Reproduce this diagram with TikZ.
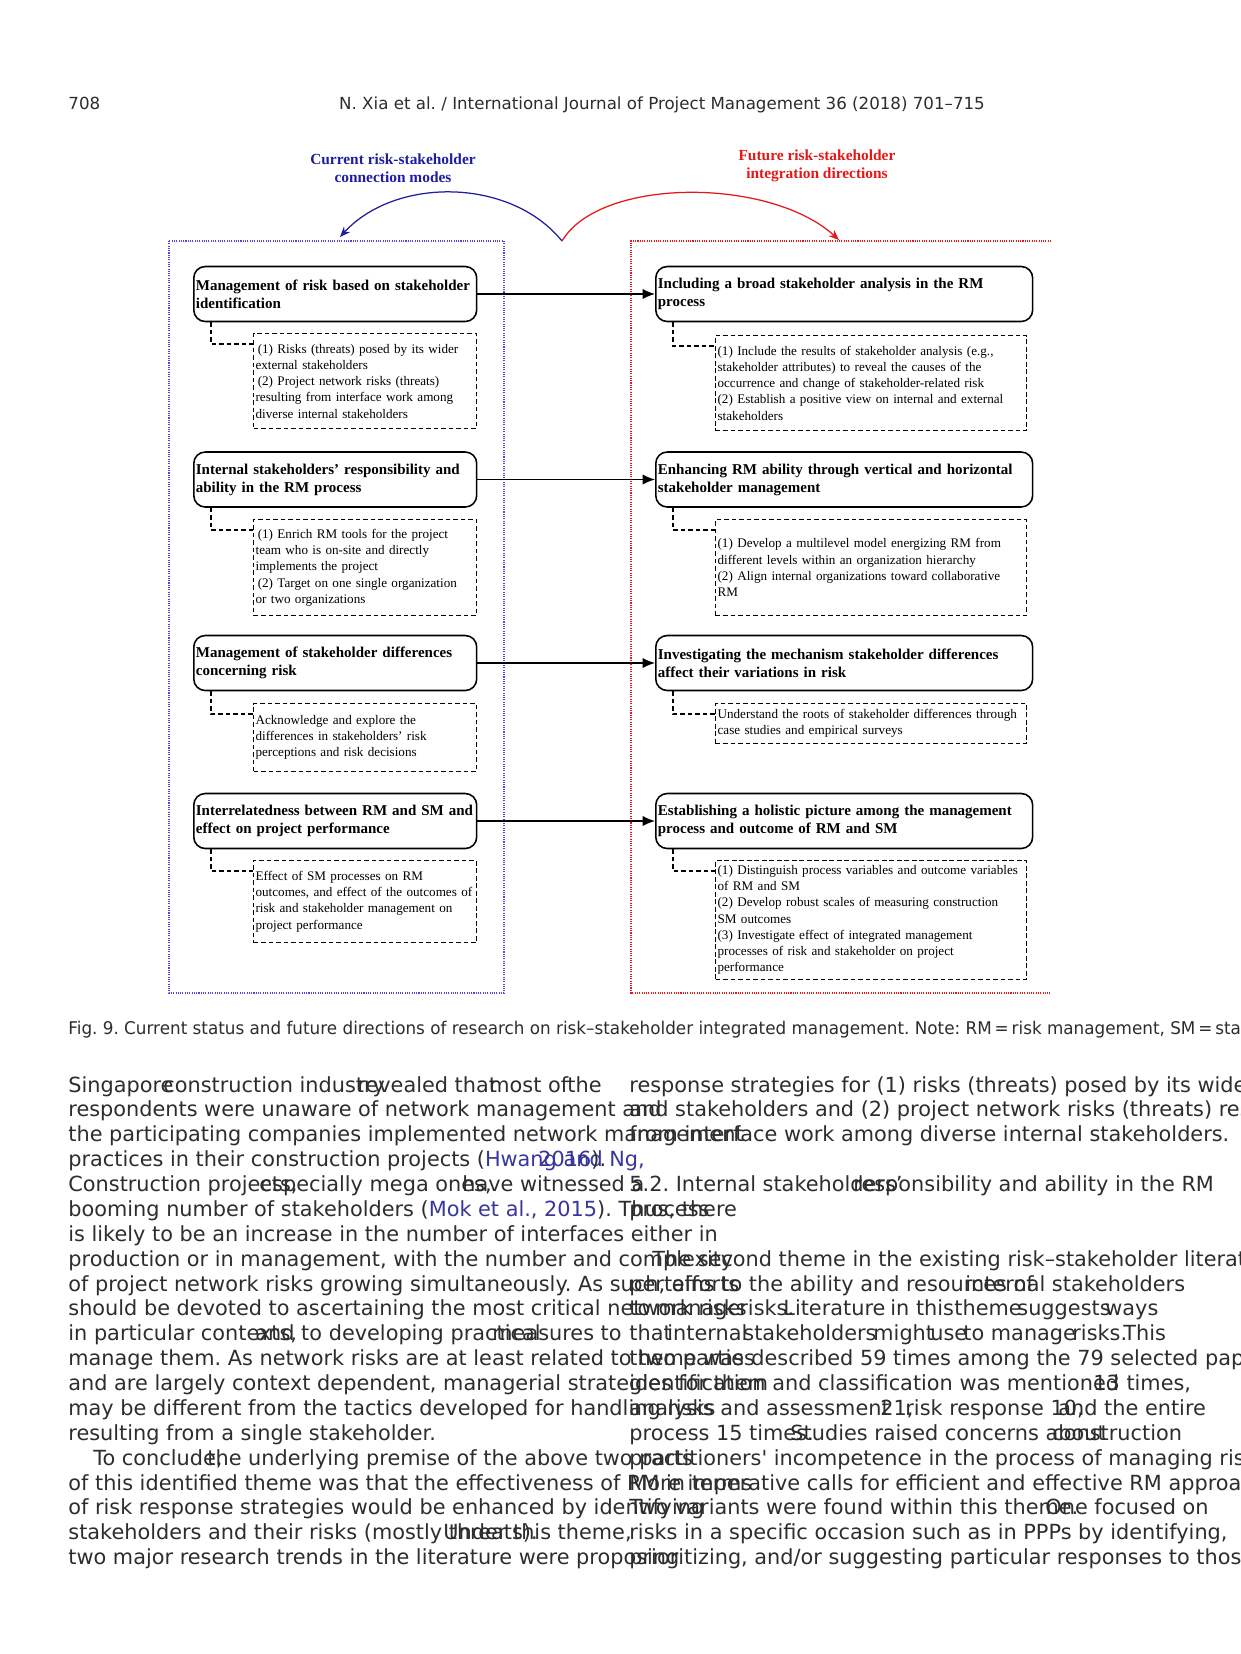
\documentclass[tikz,border=0pt]{standalone}
\usepackage{fontspec}
\setmainfont{Liberation Serif}
\newfontfamily\pagefont{DejaVu Sans}
\newfontfamily\capfont[FakeStretch=0.96]{DejaVu Sans}
\usepackage{xcolor}
\usetikzlibrary{arrows.meta, calc}

\definecolor{curblue}{RGB}{30,30,160}
\definecolor{boxblue}{RGB}{80,70,210}
\definecolor{futred}{RGB}{225,25,25}
\definecolor{bodygray}{RGB}{45,45,45}
\definecolor{citeblue}{RGB}{55,55,155}

\begin{document}
\frenchspacing
\begin{tikzpicture}[
    x=0.48pt, y=-0.48pt,
    mainbox/.style={draw, line width=0.75pt, rounded corners=5.5pt, align=left, text width=#1,
        minimum height=26.4pt, inner xsep=1pt, inner ysep=1pt, anchor=west,
        font=\bfseries\fontsize{7.2}{8.6}\selectfont},
    detailbox/.style={draw, dash pattern=on 2.2pt off 1.4pt, line width=0.5pt, align=left,
        text width=#1, inner xsep=1pt, inner ysep=1pt, anchor=north west,
        font=\fontsize{6.3}{7.8}\selectfont},
    elbow/.style={dash pattern=on 2.2pt off 1.4pt, line width=0.5pt},
    link/.style={line width=0.65pt, -{Latex[length=6pt, width=5pt]}},
    frame/.style={line width=0.5pt, dash pattern=on 0.5pt off 0.6pt},
    headtitle/.style={align=center, inner sep=0, font=\bfseries\fontsize{7.4}{8.6}\selectfont},
    bodytext/.style={anchor=base west, inner sep=0, text=bodygray, font=\pagefont\fontsize{10}{12}\selectfont},
    pagehead/.style={anchor=base, inner sep=0, text=bodygray, font=\pagefont\fontsize{8}{10}\selectfont}
]
\useasboundingbox (0,0) rectangle (1241,1654);
\clip (0,0) rectangle (1241,1654);
\fill[white] (0,0) rectangle (1241,1654);

% --- PARAMETER ---
\def\lx{193}    % linke Hauptboxen
\def\rx{655}    % rechte Hauptboxen
\def\ldx{253}   % linke Detailboxen
\def\rdx{715}   % rechte Detailboxen
\def\yb{1092}   % erste Grundlinie Fliesstext
\def\lh{24.88}  % Zeilenabstand
\def\colr{629}  % rechte Spalte

% --- KOPFZEILE ---
\node[pagehead, anchor=base west] (pagenum) at (68,109) {708};
\node[pagehead] (journal) at (662,109) {N. Xia et al. / International Journal of Project Management 36 (2018) 701–715};

% --- RAHMEN ---
\draw[frame, boxblue] (169,241) rectangle (504,993);
\draw[frame, futred] (1051,241) -- (631,241) -- (631,993) -- (1051,993);

% --- TITEL UND BOGEN ---
\node[headtitle, text=curblue] (curtitle) at (393,168) {Current risk-stakeholder\\connection modes};
\node[headtitle, text=futred] (futtitle) at (817,166) {Future risk-stakeholder\\integration directions};
\coordinate (fork) at (562,241);
\coordinate (bluetip) at (340,237);
\coordinate (redtip) at (839,240);
\draw[line width=0.6pt, curblue, -{Stealth[length=5pt, width=4pt]}] (fork) .. controls (510,177) and (395,177) .. (bluetip);
\draw[line width=0.6pt, futred, -{Stealth[length=5pt, width=4pt]}] (fork) .. controls (600,177) and (770,177) .. (redtip);

% --- LINKE SEITE ---
\node[mainbox=133.8pt] (lm1) at (\lx,294) {Management of risk based on stakeholder\\identification};
\node[mainbox=133.8pt] (lm2) at (\lx,479.5) {Internal stakeholders’ responsibility and\\ability in the RM process};
\node[mainbox=133.8pt] (lm3) at (\lx,663) {Management of stakeholder differences\\concerning risk};
\node[mainbox=133.8pt] (lm4) at (\lx,821) {Interrelatedness between RM and SM and\\effect on project performance};

\node[detailbox=105pt, minimum height=45.6pt] (ld1) at (\ldx,333) {\,(1) Risks (threats) posed by its wider\\external stakeholders\\\,(2) Project network risks (threats)\\resulting from interface work among\\diverse internal stakeholders};
\node[detailbox=105pt, minimum height=46.1pt] (ld2) at (\ldx,519) {\,(1) Enrich RM tools for the project\\team who is on-site and directly\\implements the project\\\,(2) Target on one single organization\\or two organizations};
\node[detailbox=105pt, minimum height=32.6pt] (ld3) at (\ldx,703) {Acknowledge and explore the\\differences in stakeholders’ risk\\perceptions and risk decisions};
\node[detailbox=105pt, minimum height=39.4pt] (ld4) at (\ldx,860) {Effect of SM processes on RM\\outcomes, and effect of the outcomes of\\risk and stakeholder management on\\project performance};

% --- RECHTE SEITE ---
\node[mainbox=178.9pt] (rm1) at (\rx,294) {Including a broad stakeholder analysis in the RM\\process};
\node[mainbox=178.9pt] (rm2) at (\rx,479.5) {Enhancing RM ability through vertical and horizontal\\stakeholder management};
\node[mainbox=178.9pt] (rm3) at (\rx,663) {Investigating the mechanism stakeholder differences\\affect their variations in risk};
\node[mainbox=178.9pt] (rm4) at (\rx,821) {Establishing a holistic picture among the management\\process and outcome of RM and SM};

\node[detailbox=147.3pt, minimum height=45.6pt] (rd1) at (\rdx,335) {(1) Include the results of stakeholder analysis (e.g.,\\stakeholder attributes) to reveal the causes of the\\occurrence and change of stakeholder-related risk\\(2) Establish a positive view on internal and external\\stakeholders};
\node[detailbox=147.3pt, minimum height=46.1pt] (rd2) at (\rdx,519) {(1) Develop a multilevel model energizing RM from\\different levels within an organization hierarchy\\(2) Align internal organizations toward collaborative\\RM};
\node[detailbox=147.3pt, minimum height=19.2pt] (rd3) at (\rdx,703) {Understand the roots of stakeholder differences through\\case studies and empirical surveys};
\node[detailbox=147.3pt, minimum height=57.1pt] (rd4) at (\rdx,860) {(1) Distinguish process variables and outcome variables\\of RM and SM\\(2) Develop robust scales of measuring construction\\SM outcomes\\(3) Investigate effect of integrated management\\processes of risk and stakeholder on project\\performance};

% --- VERBINDUNGEN ---
\foreach \i in {1,...,4} {
    \draw[link] (lm\i.east) -- (rm\i.west);
    \draw[elbow] ($(lm\i.south west)+(18,0)$) |- ($(ld\i.north west)+(0,11)$);
    \draw[elbow] ($(rm\i.south west)+(18,0)$) |- ($(rd\i.north west)+(0,11)$);
}

% --- BILDUNTERSCHRIFT ---
\node[bodytext, font=\capfont\fontsize{8.4}{10}\selectfont] (caption) at (68,1034) {Fig. 9. Current status and future directions of research on risk–stakeholder integrated management. Note: RM\,=\,risk management, SM\,=\,stakeholder management.};

% --- LINKE SPALTE ---
\node[bodytext] (l1a) at (68,{\yb+0*\lh}) {Singapore};
\node[bodytext] (l1b) at (163,{\yb+0*\lh}) {construction industry};
\node[bodytext] (l1c) at (357,{\yb+0*\lh}) {revealed that};
\node[bodytext] (l1d) at (489,{\yb+0*\lh}) {most of};
\node[bodytext] (l1e) at (567,{\yb+0*\lh}) {the};
\node[bodytext] (l2) at (68,{\yb+1*\lh}) {respondents were unaware of network management and};
\node[bodytext] (l3) at (68,{\yb+2*\lh}) {the participating companies implemented network management};
\node[bodytext] (l4a) at (68,{\yb+3*\lh}) {practices in their construction projects (\textcolor{citeblue}{Hwang and Ng,}};
\node[bodytext] (l4b) at (538,{\yb+3*\lh}) {\textcolor{citeblue}{2016}).};
\node[bodytext] (l5a) at (68,{\yb+4*\lh}) {Construction projects,};
\node[bodytext] (l5b) at (259,{\yb+4*\lh}) {especially mega ones,};
\node[bodytext] (l5c) at (462,{\yb+4*\lh}) {have witnessed a};
\node[bodytext] (l6) at (68,{\yb+5*\lh}) {booming number of stakeholders (\textcolor{citeblue}{Mok et al., 2015}). Thus, there};
\node[bodytext] (l7) at (68,{\yb+6*\lh}) {is likely to be an increase in the number of interfaces either in};
\node[bodytext] (l8) at (68,{\yb+7*\lh}) {production or in management, with the number and complexity};
\node[bodytext] (l9) at (68,{\yb+8*\lh}) {of project network risks growing simultaneously. As such, efforts};
\node[bodytext] (l10) at (68,{\yb+9*\lh}) {should be devoted to ascertaining the most critical network risks};
\node[bodytext] (l11a) at (68,{\yb+10*\lh}) {in particular contexts,};
\node[bodytext] (l11b) at (255,{\yb+10*\lh}) {and to developing practical};
\node[bodytext] (l11c) at (492,{\yb+10*\lh}) {measures to};
\node[bodytext] (l12) at (68,{\yb+11*\lh}) {manage them. As network risks are at least related to two parties};
\node[bodytext] (l13) at (68,{\yb+12*\lh}) {and are largely context dependent, managerial strategies for them};
\node[bodytext] (l14) at (68,{\yb+13*\lh}) {may be different from the tactics developed for handling risks};
\node[bodytext] (l15) at (68,{\yb+14*\lh}) {resulting from a single stakeholder.};
\node[bodytext] (l16a) at (93,{\yb+15*\lh}) {To conclude,};
\node[bodytext] (l16b) at (207,{\yb+15*\lh}) {the underlying premise of the above two parts};
\node[bodytext] (l17) at (68,{\yb+16*\lh}) {of this identified theme was that the effectiveness of RM in terms};
\node[bodytext] (l18) at (68,{\yb+17*\lh}) {of risk response strategies would be enhanced by identifying};
\node[bodytext] (l19a) at (68,{\yb+18*\lh}) {stakeholders and their risks (mostly threats).};
\node[bodytext] (l19b) at (443,{\yb+18*\lh}) {Under this theme,};
\node[bodytext] (l20) at (68,{\yb+19*\lh}) {two major research trends in the literature were proposing};

% --- RECHTE SPALTE ---
\node[bodytext] (r1) at (\colr,{\yb+0*\lh}) {response strategies for (1) risks (threats) posed by its wider environment};
\node[bodytext] (r2) at (\colr,{\yb+1*\lh}) {and stakeholders and (2) project network risks (threats) resulting};
\node[bodytext] (r3) at (\colr,{\yb+2*\lh}) {from interface work among diverse internal stakeholders.};
\node[bodytext] (r5a) at (\colr,{\yb+4*\lh}) {5.2. Internal stakeholders’};
\node[bodytext] (r5b) at (853,{\yb+4*\lh}) {responsibility and ability in the RM};
\node[bodytext] (r6) at (\colr,{\yb+5*\lh}) {process};
\node[bodytext] (r8) at (652,{\yb+7*\lh}) {The second theme in the existing risk–stakeholder literature};
\node[bodytext] (r9a) at (\colr,{\yb+8*\lh}) {pertains to the ability and resources of};
\node[bodytext] (r9b) at (965,{\yb+8*\lh}) {internal stakeholders};
\node[bodytext] (r10a) at (\colr,{\yb+9*\lh}) {to};
\node[bodytext] (r10b) at (655,{\yb+9*\lh}) {manage};
\node[bodytext] (r10c) at (739,{\yb+9*\lh}) {risks.};
\node[bodytext] (r10d) at (783,{\yb+9*\lh}) {Literature};
\node[bodytext] (r10e) at (890,{\yb+9*\lh}) {in this};
\node[bodytext] (r10f) at (954,{\yb+9*\lh}) {theme};
\node[bodytext] (r10g) at (1017,{\yb+9*\lh}) {suggests};
\node[bodytext] (r10h) at (1105,{\yb+9*\lh}) {ways};
\node[bodytext] (r11a) at (\colr,{\yb+10*\lh}) {that};
\node[bodytext] (r11b) at (667,{\yb+10*\lh}) {internal};
\node[bodytext] (r11c) at (743,{\yb+10*\lh}) {stakeholders};
\node[bodytext] (r11d) at (873,{\yb+10*\lh}) {might};
\node[bodytext] (r11e) at (930,{\yb+10*\lh}) {use};
\node[bodytext] (r11f) at (963,{\yb+10*\lh}) {to manage};
\node[bodytext] (r11g) at (1072,{\yb+10*\lh}) {risks.};
\node[bodytext] (r11h) at (1123,{\yb+10*\lh}) {This};
\node[bodytext] (r12a) at (\colr,{\yb+11*\lh}) {theme was};
\node[bodytext] (r12b) at (751,{\yb+11*\lh}) {described 59 times among the 79 selected papers};
\node[bodytext] (r13a) at (\colr,{\yb+12*\lh}) {identification and classification was mentioned};
\node[bodytext] (r13b) at (1093,{\yb+12*\lh}) {13 times,};
\node[bodytext] (r14a) at (\colr,{\yb+13*\lh}) {analysis and assessment};
\node[bodytext] (r14b) at (880,{\yb+13*\lh}) {21,};
\node[bodytext] (r14c) at (905,{\yb+13*\lh}) {risk response 10,};
\node[bodytext] (r14d) at (1058,{\yb+13*\lh}) {and the entire};
\node[bodytext] (r15a) at (\colr,{\yb+14*\lh}) {process 15 times.};
\node[bodytext] (r15b) at (790,{\yb+14*\lh}) {Studies raised concerns about};
\node[bodytext] (r15c) at (1052,{\yb+14*\lh}) {construction};
\node[bodytext] (r16) at (\colr,{\yb+15*\lh}) {practitioners\textquotesingle{} incompetence in the process of managing risks};
\node[bodytext] (r17) at (\colr,{\yb+16*\lh}) {More imperative calls for efficient and effective RM approaches};
\node[bodytext] (r18a) at (\colr,{\yb+17*\lh}) {Two variants were found within this theme.};
\node[bodytext] (r18b) at (1045,{\yb+17*\lh}) {One focused on};
\node[bodytext] (r19) at (\colr,{\yb+18*\lh}) {risks in a specific occasion such as in PPPs by identifying,};
\node[bodytext] (r20) at (\colr,{\yb+19*\lh}) {prioritizing, and/or suggesting particular responses to those};
\end{tikzpicture}
\end{document}
